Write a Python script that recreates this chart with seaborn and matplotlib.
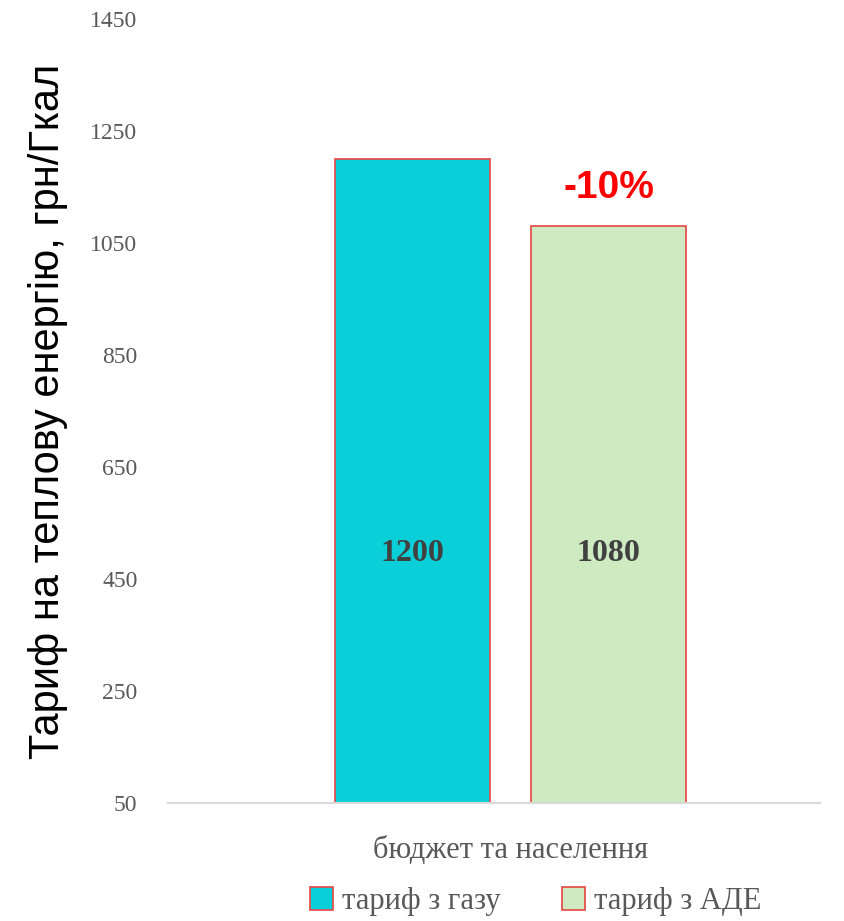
import pandas as pd
import numpy as np
import matplotlib.pyplot as plt
import seaborn as sns
from matplotlib.patches import Patch

sns.set_style("white")

# data
category = ['бюджет та населення']
series = ['тариф з газу', 'тариф з АДЕ']
values = [1200, 1080]
colors = ['#0BCFD8', '#CDEAC0']
yticks = [50, 250, 450, 650, 850, 1050, 1250, 1450]
change_label = '-10%'

df = pd.DataFrame({'cat': category * len(series), 'series': series, 'value': values})

serif = ['Liberation Serif', 'DejaVu Serif']
gray = '#595959'

fig = plt.figure(figsize=(8.44, 9.21), dpi=100)
ax = fig.add_axes([0.199, 0.128, 0.7726, 0.851])

sns.barplot(data=df, x='cat', y='value', hue='series', palette=colors,
            saturation=1, gap=0.21, width=0.8, edgecolor='#E84545', linewidth=1.2,
            legend=False, ax=ax)

ax.set_ylim(50, 1450)
ax.set_xlim(-0.699, 0.631)
ax.set_yticks(yticks)
ax.set_yticklabels([str(t) for t in yticks], family=serif, fontsize=17, color=gray)
ax.set_xticks([0])
ax.set_xticklabels(category, family=serif, fontsize=22, color=gray)
ax.set_xlabel('')
ax.tick_params(axis='x', length=0, pad=24)
ax.tick_params(axis='y', length=0, pad=22)

for s in ['top', 'right', 'left']:
    ax.spines[s].set_visible(False)
ax.spines['bottom'].set_color('#d9d9d9')
ax.spines['bottom'].set_linewidth(1.5)
ax.grid(False)

ax.set_ylabel('Тариф на теплову енергію, грн/Гкал', family=['Liberation Sans', 'DejaVu Sans'],
              fontsize=30, color='black', labelpad=16)

# value labels inside the bars
for bar, v in zip(ax.patches, values):
    cx = bar.get_x() + bar.get_width() / 2
    ax.text(cx, 495, str(v), ha='center', va='center', family=serif,
            fontsize=23, fontweight='bold', color='#404040')

# change label above second bar
b2 = ax.patches[1]
ax.text(b2.get_x() + b2.get_width() / 2, 1148, change_label, ha='center', va='center',
        family=['Liberation Sans', 'DejaVu Sans'], fontsize=28, fontweight='bold', color='#FF0000')

handles = [Patch(facecolor=c, edgecolor='#E84545', linewidth=1.2) for c in colors]
fig.legend(handles, series, loc='center', bbox_to_anchor=(0.635, 0.021), ncol=2,
           frameon=False, prop={'family': serif, 'size': 22}, labelcolor=gray,
           handlelength=0.75, handleheight=0.75, handletextpad=0.3, columnspacing=2.0)

plt.savefig('out.png', dpi=100)
plt.close()
